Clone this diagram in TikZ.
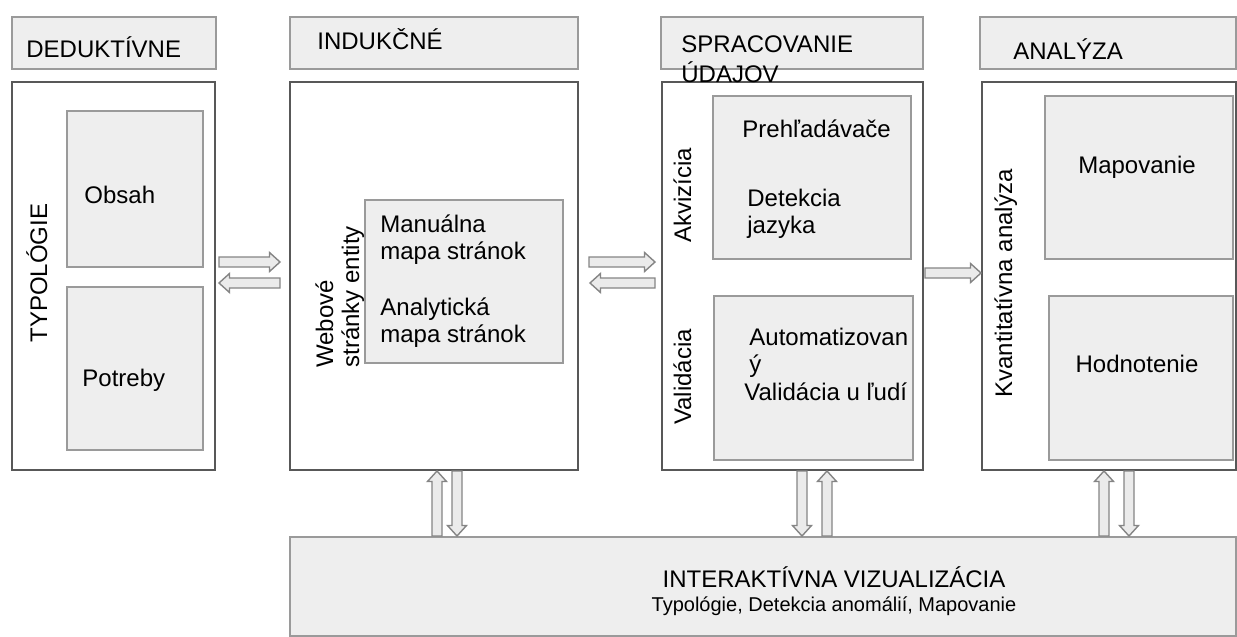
\documentclass[tikz,border=0pt]{standalone}
\usepackage{fontspec}
\setmainfont{Liberation Sans}
\usetikzlibrary{fit,calc}
\definecolor{hdrfill}{HTML}{EEEEEE}
\definecolor{hdrline}{HTML}{9A9A9A}
\definecolor{mainline}{HTML}{585858}
\definecolor{arrline}{HTML}{858585}
\definecolor{arrfill}{HTML}{EBEBEB}
\begin{document}
\begin{tikzpicture}[x=0.5pt,y=-0.5pt, font=\fontsize{12}{13.5}\selectfont,
  hdr/.style={draw=hdrline, fill=hdrfill, line width=1pt, inner sep=0pt},
  mainbox/.style={draw=mainline, fill=white, line width=1pt, inner sep=0pt},
  inbox/.style={draw=hdrline, fill=hdrfill, line width=1pt, inner sep=0pt},
  txt/.style={inner sep=0pt, anchor=base west},
  ctxt/.style={inner sep=0pt, anchor=base},
  vtxt/.style={inner sep=0pt, anchor=base west, rotate=90},
  barrow/.style={draw=arrline, fill=arrfill, line width=0.7pt,
    to path={let \p1=(\tikztostart), \p2=(\tikztotarget),
      \n1={atan2(\y2-\y1,\x2-\x1)}, \n2={veclen(\x2-\x1,\y2-\y1)} in
      ([shift={(\p1)},rotate=\n1]0pt,-2.5pt)
      -- ([shift={(\p1)},rotate=\n1]\n2-5.25pt,-2.5pt)
      -- ([shift={(\p1)},rotate=\n1]\n2-5.25pt,-4.75pt)
      -- ([shift={(\p1)},rotate=\n1]\n2+0pt,0pt)
      -- ([shift={(\p1)},rotate=\n1]\n2-5.25pt,4.75pt)
      -- ([shift={(\p1)},rotate=\n1]\n2-5.25pt,2.5pt)
      -- ([shift={(\p1)},rotate=\n1]0pt,2.5pt) -- cycle}}]
\useasboundingbox (0,0) rectangle (1237,637);
\fill[white] (0,0) rectangle (1237,637);
% headers
\node[hdr, fit={(12,17) (216,69)}] (h1) {};
\node[hdr, fit={(290,17) (578,69)}] (h2) {};
\node[hdr, fit={(661,17) (923,69)}] (h3) {};
\node[hdr, fit={(980,17) (1236,69)}] (h4) {};
% main boxes
\node[mainbox, fit={(12,82) (215,470)}] (m1) {};
\node[mainbox, fit={(290,82) (578,470)}] (m2) {};
\node[mainbox, fit={(662,82) (923,470)}] (m3) {};
\node[mainbox, fit={(982,82) (1236,470)}] (m4) {};
% inner boxes
\node[inbox, fit={(67,111) (203,267)}] (obsah) {};
\node[inbox, fit={(67,287) (203,450)}] (potreby) {};
\node[inbox, fit={(365,200) (563,363)}] (web) {};
\node[inbox, fit={(713,96) (911,259)}] (akv) {};
\node[inbox, fit={(714,296) (913,460)}] (val) {};
\node[inbox, fit={(1045,96) (1233,259)}] (map) {};
\node[inbox, fit={(1049,296) (1233,460)}] (hod) {};
% bottom box
\node[inbox, fit={(290,537) (1236,636)}] (bot) {};
% header texts
\node[txt] (t1) at (26,57) {DEDUKTÍVNE};
\node[txt] (t2) at (317,49) {INDUKČNÉ};
\node[txt] (t3a) at (681,53) {SPRACOVANIE};
\node[txt] (t3b) at (681,82) {ÚDAJOV};
\node[txt] (t4) at (1013,59) {ANALÝZA};
% rotated texts
\node[vtxt] (v1) at (47,343) {TYPOLÓGIE};
\node[vtxt] (v2a) at (333,368) {Webové};
\node[vtxt] (v2b) at (359,368) {stránky entity};
\node[vtxt] (v3a) at (691,243) {Akvizícia};
\node[vtxt] (v3b) at (691,425) {Validácia};
\node[vtxt] (v4) at (1012,398) {Kvantitatívna analýza};
% inner texts
\node[txt] (x1) at (84,203) {Obsah};
\node[txt] (x2) at (82,386) {Potreby};
\node[txt] (x3) at (380,232) {Manuálna};
\node[txt] (x4) at (380,259) {mapa stránok};
\node[txt] (x5) at (380,315) {Analytická};
\node[txt] (x6) at (380,342) {mapa stránok};
\node[txt] (x7) at (742,137) {Prehľadávače};
\node[txt] (x8) at (747,206) {Detekcia};
\node[txt] (x9) at (747,233) {jazyka};
\node[txt] (x10) at (749,345) {Automatizovan};
\node[txt] (x11) at (749,372) {ý};
\node[txt] (x12) at (744,400) {Validácia u ľudí};
\node[ctxt] (x13) at (1137,173) {Mapovanie};
\node[ctxt] (x14) at (1137,372) {Hodnotenie};
\node[ctxt] (b1) at (834,587) {INTERAKTÍVNA VIZUALIZÁCIA};
\node[ctxt, font=\fontsize{10}{12}\selectfont] (b2) at (834,611) {Typológie, Detekcia anomálií, Mapovanie};
% horizontal arrows
\draw[barrow] ($(m1.east|-0,262)+(3,0)$) to ($(m2.west|-0,262)+(-9,0)$);
\draw[barrow] ($(m2.west|-0,283)+(-9,0)$) to ($(m1.east|-0,283)+(3,0)$);
\draw[barrow] ($(m2.east|-0,262)+(10,0)$) to ($(m3.west|-0,262)+(-6,0)$);
\draw[barrow] ($(m3.west|-0,283)+(-6,0)$) to ($(m2.east|-0,283)+(11,0)$);
\draw[barrow] ($(m3.east|-0,273)+(1,0)$) to (m4.west|-0,273);
% vertical arrows
\draw[barrow] (bot.north-|437,0) to (m2.south-|437,0);
\draw[barrow] (m2.south-|457,0) to (bot.north-|457,0);
\draw[barrow] (m3.south-|802,0) to (bot.north-|802,0);
\draw[barrow] (bot.north-|827,0) to (m3.south-|827,0);
\draw[barrow] (bot.north-|1104,0) to (m4.south-|1104,0);
\draw[barrow] (m4.south-|1129,0) to (bot.north-|1129,0);
\end{tikzpicture}
\end{document}
